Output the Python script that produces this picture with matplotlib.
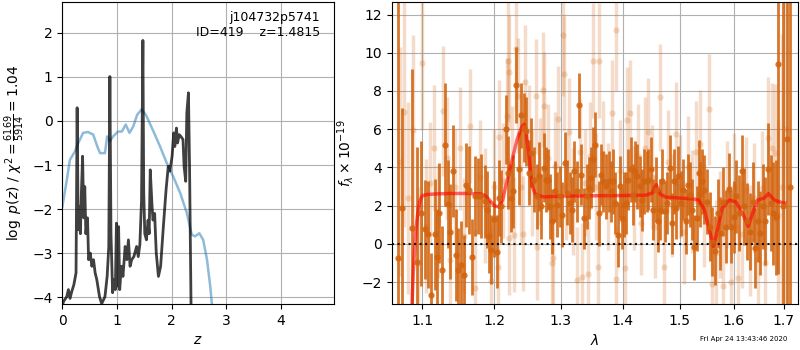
# coding:utf-8
# redshift fit figure: p(z) on the left, spectrum + model on the right
import numpy as np
from matplotlib import pyplot as plt
from matplotlib.ticker import NullLocator

# ---- left panel: log p(z) ----
z_pz = [0.00, 0.02, 0.08, 0.11, 0.14, 0.17, 0.21, 0.25, 0.27, 0.29, 0.30, 0.33, 0.35, 0.37,
        0.39, 0.41, 0.43, 0.46, 0.48, 0.51, 0.54, 0.57, 0.60, 0.63, 0.68, 0.72, 0.78, 0.82,
        0.85, 0.87, 0.89, 0.92, 0.94, 0.97, 0.99, 1.01, 1.03, 1.05, 1.08, 1.11, 1.15, 1.18,
        1.21, 1.24, 1.27, 1.31, 1.36, 1.39, 1.42, 1.45, 1.475, 1.49, 1.51, 1.54, 1.57, 1.59,
        1.61, 1.64, 1.66, 1.69, 1.72, 1.76, 1.80, 1.85, 1.90, 1.94, 1.97, 2.01, 2.04, 2.06,
        2.09, 2.11, 2.14, 2.17, 2.21, 2.23, 2.26, 2.28, 2.31, 2.33, 2.36, 2.40]
logp_pz = [-4.2, -4.1, -3.99, -3.83, -4.03, -3.88, -3.72, -3.45, 0.30, -2.47, -1.94, -2.56, -1.56, -0.80,
           -2.2, -1.49, -2.56, -2.2, -3.15, -3.0, -3.3, -3.15, -3.45, -3.6, -3.99, -4.15, -3.99, -3.53,
           -2.85, 1.01, -2.56, -3.9, -3.6, -3.83, -2.32, -3.75, -2.4, -3.83, -3.3, -3.53, -2.85, -3.15,
           -2.7, -3.3, -3.15, -3.08, -2.85, -3.08, -2.8, -1.8, 1.83, -1.6, -2.56, -2.7, -2.25, -2.56,
           -1.11, -1.87, -2.25, -2.1, -3.0, -3.53, -3.3, -2.4, -1.56, -1.03, -1.14, -0.8, -0.27, -0.58,
           -0.16, -0.50, -0.31, -0.35, -0.42, -1.03, -1.37, 0.18, 0.64, -1.03, -4.5, -6.0]

z_prior = [0.00, 0.077, 0.138, 0.23, 0.29, 0.38, 0.47, 0.565, 0.64, 0.69, 0.78, 0.82, 0.87, 0.93,
           1.02, 1.09, 1.16, 1.23, 1.30, 1.37, 1.45, 1.53, 1.67, 1.79, 1.91, 2.03, 2.16, 2.28,
           2.37, 2.43, 2.51, 2.58, 2.65, 2.71, 2.74, 2.78]
logp_prior = [-1.94, -1.37, -0.88, -0.69, -0.5, -0.27, -0.25, -0.31, -0.58, -0.73, -0.73, -0.35, -0.46, -0.35,
              -0.24, -0.24, -0.08, -0.27, -0.12, 0.14, 0.26, 0.14, -0.24, -0.58, -0.95, -1.26, -1.64, -2.09,
              -2.58, -2.62, -2.55, -2.70, -3.15, -3.76, -4.17, -4.9]

z_ticks = [0, 1, 2, 3, 4]
logp_ticks = [-4, -3, -2, -1, 0, 1, 2]

# ---- right panel: binned spectrum (dark) ----
lam_bin = [1.0687, 1.0738, 1.0868, 1.0934, 1.0987, 1.1044, 1.1080, 1.1123, 1.1168, 1.1198, 1.1231,
           1.1267, 1.1311, 1.1350, 1.1377, 1.1423, 1.1460, 1.1493, 1.1528, 1.1570, 1.1598, 1.1644,
           1.1682, 1.1720, 1.1767, 1.1813, 1.1862, 1.1894, 1.1918, 1.1956, 1.1990,
           1.2043, 1.2067, 1.2100, 1.2164, 1.2198, 1.2237, 1.2276, 1.2321, 1.2361, 1.2395, 1.2435,
           1.2470, 1.2510, 1.2545, 1.2585, 1.2626, 1.2661, 1.2696, 1.2737, 1.2772, 1.2803, 1.2829,
           1.2864, 1.2906, 1.2942, 1.2984, 1.3020, 1.3063, 1.3099, 1.3141, 1.3178, 1.3205, 1.3248,
           1.3285, 1.3322, 1.3365, 1.3408, 1.3445, 1.3483, 1.3515, 1.3543,
           1.3603, 1.3640, 1.3678, 1.3722, 1.3767, 1.3805, 1.3843, 1.3876, 1.3916, 1.3955, 1.3988,
           1.4027, 1.4067, 1.4101, 1.4140, 1.4179, 1.4213, 1.4254, 1.4294, 1.4328, 1.4368, 1.4410,
           1.4444, 1.4484, 1.4525, 1.4571, 1.4611, 1.4646, 1.4688, 1.4729, 1.4776, 1.4817, 1.4853,
           1.4894, 1.4937, 1.4973, 1.5015, 1.5057, 1.5105, 1.5147, 1.5183, 1.5214, 1.5256, 1.5306,
           1.5343, 1.5374, 1.5411, 1.5448, 1.5497, 1.5547, 1.5597, 1.5646, 1.5697, 1.5748, 1.5798,
           1.5855, 1.5906, 1.5950, 1.6002, 1.6054, 1.6112, 1.6162, 1.6209, 1.6260, 1.6319, 1.6371,
           1.6417, 1.6470, 1.6523, 1.6568, 1.6621, 1.6681, 1.6733, 1.6787, 1.6841, 1.6888, 1.6990,
           1.7060, 1.7115]
flux_bin = [-0.75, 1.9, 0.84, -0.93, 1.6, 0.76, 0.5, -2.68, 0.5, -0.67, 1.61,
            -1.37, 5.2, 2.1, 0.65, 3.8, -0.58, -1.37, -1.1, -1.63, 3.1, 2.84,
            -0.67, 2.5, 2.5, 2.5, 2.23, 1.79, 0.39, -0.3, 1.3,
            -0.4, 2.4, 1.96, 6.0, 3.72, 2.4, 2.75, 8.3, 3.93, 6.74, 6.09,
            5.9, 3.72, 4.77, 3.37, 2.49, 3.54, 1.96, 3.98, 3.37, 3.37, 1.96,
            1.18, 2.75, 2.05, 2.49, 1.53, 4.25, 2.67, 2.14, 1.79, 3.8, 2.75,
            7.26, 3.63, 1.35, 2.49, 2.93, 3.46, 4.42, 5.2,
            1.61, 3.63, 3.28, 3.02, 3.28, 2.75, 3.28, 2.14, 0.47, 3.02, 1.35,
            2.05, 2.14, 3.37, 3.9, 2.58, 3.8, 3.54, 3.02, 2.3, 3.28, 3.28,
            3.37, 3.9, 1.79, 2.84, 1.18, 1.79, 3.28, 1.7, 2.14, 3.98, 1.09,
            3.28, 1.87, 3.54, 2.14, 2.84, 1.18, 3.1, 2.58, 1.79, -0.18, 1.35,
            3.72, 2.6, 3.28, 2.84, 2.2, 0.91, 0.12, -0.35, 1.61, 0.56, 2.2,
            0.91, 2.88, 0.91, 1.4, 2.49, 1.61, 3.8, 1.96, 1.18, 0.65, 2.2,
            -0.21, 1.18, 0.56, 1.96, 1.18, 3.9, 2.14, 1.61, 1.4, 9.42, 2.0,
            5.47, 3.0]
err_bin = [14.0, 5.2, 8.3, 6.0, 3.8, 2.6, 2.8, 2.2, 2.9, 2.5, 2.6,
           2.3, 3.2, 2.3, 2.5, 2.4, 2.4, 2.2, 2.3, 2.1, 2.2, 2.3,
           2.0, 2.1, 2.0, 2.2, 1.9, 2.0, 1.9, 1.8, 2.0,
           1.9, 2.0, 1.9, 1.8, 1.9, 1.8, 1.9, 2.0, 1.9, 1.7, 1.8,
           1.8, 1.7, 1.8, 1.7, 1.7, 1.8, 1.7, 1.8, 1.7, 1.6, 1.7,
           1.7, 1.6, 1.7, 1.6, 1.7, 1.6, 1.7, 1.6, 1.7, 1.6, 1.6,
           1.7, 1.6, 1.6, 1.7, 1.6, 1.6, 1.7, 1.7,
           1.7, 1.6, 1.6, 1.7, 1.6, 1.6, 1.7, 1.6, 1.7, 1.6, 1.6,
           1.7, 1.6, 1.6, 1.7, 1.6, 1.6, 1.7, 1.6, 1.6, 1.7, 1.6,
           1.6, 1.7, 1.6, 1.7, 1.6, 1.6, 1.7, 1.6, 1.6, 1.7, 1.6,
           1.7, 1.6, 1.6, 1.7, 1.6, 1.7, 1.6, 1.7, 1.6, 1.7, 1.7,
           1.7, 1.7, 1.7, 1.8, 1.7, 1.8, 1.8, 1.8, 1.8, 1.9, 1.8,
           1.9, 1.9, 1.9, 1.9, 1.9, 2.0, 1.9, 2.0, 2.0, 2.0, 2.1,
           2.1, 2.1, 2.2, 2.2, 2.3, 2.4, 2.5, 2.7, 3.0, 11.0, 11.0,
           10.0, 12.0]

# ---- right panel: unbinned spectrum (light) ----
lam_raw = [1.0712, 1.0764, 1.0816, 1.0881, 1.0946, 1.1000, 1.1053, 1.1106, 1.1160, 1.1213,
           1.1280, 1.1334, 1.1377, 1.1445, 1.1514, 1.1570, 1.1653, 1.1723, 1.1794, 1.1866,
           1.1948, 1.1995, 1.2057, 1.2071, 1.2126, 1.2180, 1.2203, 1.2214, 1.2218, 1.2257,
           1.2291, 1.2312, 1.2350, 1.2391, 1.2425, 1.2450, 1.2510, 1.2555, 1.2616, 1.2626,
           1.2677, 1.2727, 1.2742, 1.2798, 1.2855, 1.2870, 1.2906, 1.2953, 1.3036, 1.3047,
           1.3079, 1.3126, 1.3189, 1.3248, 1.3301, 1.3328, 1.3381, 1.3434, 1.3461, 1.3515,
           1.3559, 1.3597, 1.3603, 1.3673, 1.3755, 1.3816, 1.3883, 1.3899, 1.3955, 1.4039,
           1.4077, 1.4123, 1.4191, 1.4259, 1.4311, 1.4380, 1.4438, 1.4501, 1.4554, 1.4641,
           1.4711, 1.4781, 1.4853, 1.4924, 1.4997, 1.5069, 1.5141, 1.5214, 1.5287, 1.5374,
           1.5435, 1.5534, 1.5597, 1.5659, 1.5735, 1.5798, 1.5868, 1.5944, 1.6002, 1.6085,
           1.6156, 1.6234, 1.6313, 1.6391, 1.6470, 1.6548, 1.6627, 1.6687, 1.6755, 1.6827,
           1.6888, 1.6951, 1.7033]
flux_raw = [4.3, 6.9, 2.4, 5.95, -1.0, 9.47, 0.95, 3.2, 5.0, 1.2,
            6.95, 4.5, -0.84, 3.0, 5.0, 0.44, 6.17, -2.28, 3.5, 2.0,
            -1.93, 3.0, -1.23, 5.6, 3.3, 6.7, 9.56, 0.32, 9.0, 4.2,
            0.49, 10.2, 7.75, 3.0, 0.53, 8.46, 5.3, 3.2, 7.72, -0.14,
            3.8, 8.07, 7.23, 4.5, -0.98, -0.72, 4.1, 6.53, 10.95, 8.9,
            3.0, 5.88, 2.2, -1.89, 4.8, -1.72, 3.2, -1.58, 4.6, 9.58,
            3.0, -1.19, 9.58, 4.7, 2.5, 6.83, 11.2, -1.84, 3.8, -1.28,
            6.47, 6.84, 2.4, 4.6, 1.1, 5.0, 5.88, 3.5, 0.9, 7.67,
            -1.23, 4.3, 2.0, 5.77, 3.0, 0.6, 4.0, 2.2, 4.8, 5.25,
            1.5, 7.05, -2.12, -0.5, 1.0, -2.19, 2.6, -1.98, 3.0, -1.77,
            0.5, 2.8, 0.2, 2.4, -0.8, 2.9, -1.0, 5.53, 5.0, 4.77,
            1.5, 3.0, 6.0]
err_raw = [6.0, 6.0, 5.0, 5.0, 4.0, 3.5, 3.5, 3.2, 3.3, 3.0,
           3.4, 3.2, 3.0, 3.0, 3.2, 3.0, 3.0, 3.0, 3.0, 3.0,
           2.8, 3.0, 2.8, 3.0, 3.0, 3.0, 3.2, 3.0, 3.0, 3.0,
           3.0, 3.2, 3.0, 3.0, 3.0, 3.0, 3.0, 2.8, 3.0, 2.8,
           2.8, 3.0, 2.8, 2.8, 2.8, 2.8, 2.8, 2.8, 3.2, 3.0,
           2.8, 2.8, 2.8, 2.8, 2.8, 2.8, 2.8, 2.8, 2.8, 3.0,
           2.8, 2.8, 3.0, 2.8, 2.8, 2.8, 3.2, 2.8, 2.7, 2.7,
           2.8, 2.8, 2.7, 2.7, 2.7, 2.7, 2.8, 2.7, 2.7, 2.8,
           2.7, 2.7, 2.7, 2.7, 2.7, 2.7, 2.7, 2.7, 2.7, 2.8,
           2.7, 2.9, 2.8, 2.8, 2.8, 2.8, 2.8, 2.8, 2.8, 2.8,
           2.8, 2.8, 2.9, 2.9, 3.0, 3.0, 3.2, 3.2, 3.4, 3.6,
           5.0, 8.0, 10.0]

# ---- right panel: best-fit model (red) ----
lam_model = [1.0860, 1.0885, 1.0920, 1.0950, 1.0975, 1.1000, 1.1050, 1.1200, 1.1400, 1.1600,
             1.1800, 1.1880, 1.1940, 1.2000, 1.2067, 1.2120, 1.2164, 1.2237, 1.2333, 1.2400,
             1.2435, 1.2470, 1.2510, 1.2560, 1.2610, 1.2737, 1.3000, 1.3500, 1.4000, 1.4400,
             1.4512, 1.4580, 1.4650, 1.4750, 1.5000, 1.5250, 1.5343, 1.5448, 1.5540, 1.5618,
             1.5679, 1.5786, 1.5918, 1.6046, 1.6175, 1.6285, 1.6371, 1.6470, 1.6601, 1.6687,
             1.6801, 1.6902, 1.7016]
flux_model = [-4.0, -1.5, 0.8, 1.8, 2.3, 2.5, 2.58, 2.62, 2.64, 2.64,
              2.62, 2.5, 2.25, 2.0, 1.93, 2.3, 3.0, 4.07, 5.47, 6.1,
              6.26, 5.8, 4.6, 3.0, 2.58, 2.46, 2.5, 2.52, 2.53, 2.55,
              2.67, 3.1, 2.6, 2.45, 2.4, 2.35, 2.3, 1.8, 0.74, -0.14,
              0.56, 1.88, 2.3, 2.2, 1.6, 0.91, 1.6, 2.3, 2.4, 2.63,
              2.3, 2.2, 2.14]

lam_ticks = [1.1, 1.2, 1.3, 1.4, 1.5, 1.6, 1.7]
flux_ticks = [-2, 0, 2, 4, 6, 8, 10, 12]

# colours
spec_color = '#d2640f'


def set_up_left(ax):
    ax.set_xlim(0, 4.97)
    ax.set_ylim(-4.16, 2.70)
    ax.set_xticks(z_ticks)
    ax.set_yticks(logp_ticks)
    ax.set_xlabel('$z$')
    ax.set_ylabel(r'$\log\ p(z)$ / $\chi^2=\frac{6169}{5914}=1.04$')
    ax.grid()


def set_up_right(ax):
    ax.set_xscale('log')
    ax.set_xlim(1.061, 1.729)
    ax.set_ylim(-3.15, 12.65)
    ax.set_xticks(lam_ticks)
    ax.set_xticklabels(['%.1f' % t for t in lam_ticks])
    ax.xaxis.set_minor_locator(NullLocator())
    ax.set_yticks(flux_ticks)
    ax.set_xlabel(r'$\lambda$')
    ax.set_ylabel(r'$f_\lambda\times10^{-19}$')
    ax.grid()


def main():
    fig = plt.figure(figsize=(8, 3.5), dpi=100)
    ax1 = fig.add_axes([0.078, 0.131, 0.339, 0.863])
    ax2 = fig.add_axes([0.49, 0.131, 0.5075, 0.863])

    # p(z) and the prior-ish curve
    ax1.plot(z_prior, logp_prior, color='#1f77b4', alpha=0.5, lw=1.8)
    ax1.plot(z_pz, logp_pz, color='k', alpha=0.75, lw=2)
    ax1.text(0.95, 0.97, 'j104732p5741\nID=419    z=1.4815', transform=ax1.transAxes,
             ha='right', va='top', fontsize=9)
    set_up_left(ax1)

    # spectrum
    ax2.errorbar(lam_raw, flux_raw, yerr=err_raw, fmt='o', color=spec_color, alpha=0.22,
                 ms=4.5, mec='none', elinewidth=2.5, capsize=0)
    ax2.errorbar(lam_bin, flux_bin, yerr=err_bin, fmt='o', color=spec_color, alpha=0.88,
                 ms=4.5, mec='none', elinewidth=2.0, capsize=0)
    ax2.plot(lam_model, flux_model, color='r', alpha=0.6, lw=2.5)
    ax2.axhline(0, color='k', ls=':', lw=1.5, alpha=0.9)
    set_up_right(ax2)

    # time stamp
    fig.text(0.984, 0.031, 'Fri Apr 24 13:43:46 2020', ha='right', va='center', fontsize=5)

    fig.savefig('out.png', dpi=100)


if __name__ == "__main__":
    main()
